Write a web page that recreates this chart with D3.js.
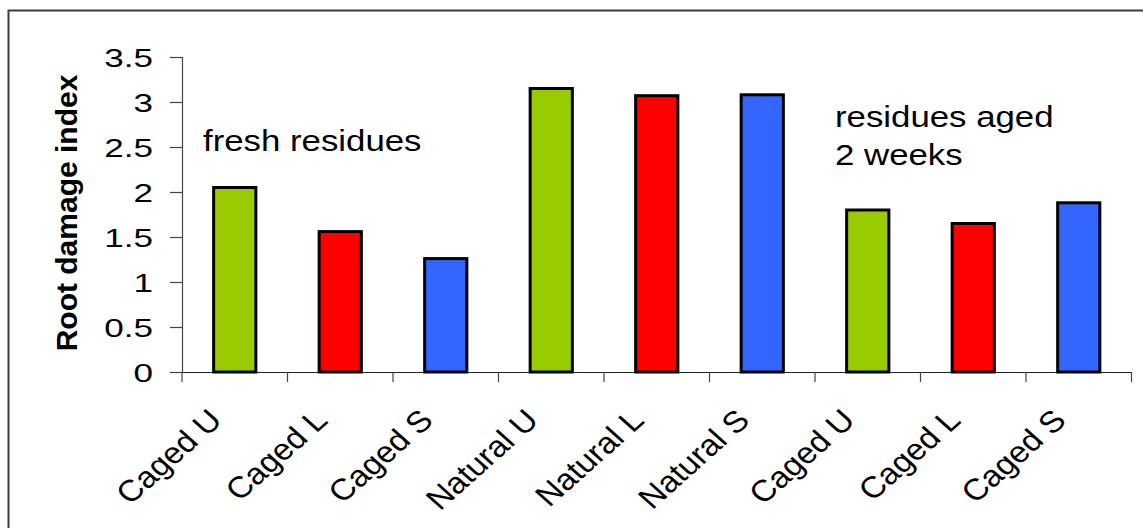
<!DOCTYPE html>
<html>
<head>
<meta charset="utf-8">
<script src="https://cdn.jsdelivr.net/npm/d3@7"></script>
<style>
  html, body { margin: 0; padding: 0; background: #fff; }
  svg { display: block; }
  text { font-family: "Liberation Sans", Arial, sans-serif; fill: #000; }
</style>
</head>
<body>
<svg id="chart" width="1143" height="528"></svg>
<script>
// Treatments along the x axis (fresh residues, natural, residues aged 2 weeks)
const categories = ["Caged U", "Caged L", "Caged S", "Natural U", "Natural L", "Natural S", "Caged U", "Caged L", "Caged S"];
// Mean root damage index per treatment
const damageIndex = [2.05, 1.56, 1.26, 3.15, 3.07, 3.08, 1.80, 1.65, 1.88];
// Residue type of each bar (U, L, S)
const residueType = ["U", "L", "S", "U", "L", "S", "U", "L", "S"];
const yTicks = [0, 0.5, 1, 1.5, 2, 2.5, 3, 3.5];
const yTitle = "Root damage index";
const notes = [
  { lines: ["fresh residues"], x: 203, y: 151 },
  { lines: ["residues aged", "2 weeks"], x: 835, y: 127 }
];

const colorByType = { U: "#99CC00", L: "#FF0000", S: "#3366FF" };

const svg = d3.select("#chart");
const W = 1143, H = 528;
const plot = { left: 182, right: 1131.5, top: 57, bottom: 372 };

// Outer frame (runs off the right and bottom edges)
svg.append("rect")
  .attr("x", 8.5).attr("y", 10.5)
  .attr("width", W + 10).attr("height", H + 10)
  .attr("fill", "#fff").attr("stroke", "#3c3c3c").attr("stroke-width", 2);

const x = d3.scaleBand()
  .domain(d3.range(categories.length))
  .range([plot.left, plot.right])
  .paddingInner(0.6)
  .paddingOuter(0.3);

const y = d3.scaleLinear().domain([0, 3.5]).range([plot.bottom, plot.top]);

// Y axis
const yAxis = svg.append("g").attr("transform", `translate(${plot.left},0)`)
  .call(d3.axisLeft(y).tickValues(yTicks).tickSize(12).tickFormat(d3.format("")));
yAxis.select(".domain").attr("stroke", "#444").attr("stroke-width", 1.2);
yAxis.selectAll(".tick line").attr("stroke", "#444").attr("stroke-width", 1.2);
yAxis.selectAll(".tick text").remove();
yAxis.selectAll(".tick").append("text")
  .attr("transform", "translate(-29,0) scale(1.35,1)")
  .attr("text-anchor", "end")
  .attr("dy", "0.36em")
  .style("font-size", "26px")
  .text(d => d3.format("")(d));

// X axis: ticks at band boundaries
const xAxisG = svg.append("g");
xAxisG.append("line")
  .attr("x1", plot.left).attr("x2", plot.right)
  .attr("y1", plot.bottom + 0.5).attr("y2", plot.bottom + 0.5)
  .attr("stroke", "#222").attr("stroke-width", 1.2);
const bounds = d3.range(categories.length + 1).map(i => plot.left + i * x.step());
xAxisG.selectAll("line.tk").data(bounds).join("line")
  .attr("class", "tk")
  .attr("x1", d => d).attr("x2", d => d)
  .attr("y1", plot.bottom).attr("y2", plot.bottom + 10)
  .attr("stroke", "#444").attr("stroke-width", 1.2);

// Category labels, rotated
xAxisG.selectAll("text.cat").data(categories).join("text")
  .attr("class", "cat")
  .attr("text-anchor", "end")
  .attr("transform", (d, i) => {
    const cx = x(i) + x.bandwidth() / 2;
    return `translate(${cx - 11},${422}) scale(1.12,1) rotate(-45)`;
  })
  .style("font-size", "30px")
  .text(d => d);

// Bars
svg.append("g").selectAll("rect").data(damageIndex).join("rect")
  .attr("x", (d, i) => x(i))
  .attr("y", d => y(d))
  .attr("width", x.bandwidth())
  .attr("height", d => y(0) - y(d))
  .attr("fill", (d, i) => colorByType[residueType[i]])
  .attr("stroke", "#000")
  .attr("stroke-width", 3);

// Y title
svg.append("text")
  .attr("transform", "translate(77,213) rotate(-90)")
  .attr("text-anchor", "middle")
  .style("font-size", "30px")
  .style("font-weight", "bold")
  .text(yTitle);

// Annotations
notes.forEach(n => {
  const t = svg.append("text")
    .attr("transform", `translate(${n.x},${n.y}) scale(1.2,1)`)
    .style("font-size", "29px");
  n.lines.forEach((line, k) => {
    t.append("tspan").attr("x", 0).attr("dy", k === 0 ? 0 : 38).text(line);
  });
});
</script>
</body>
</html>
